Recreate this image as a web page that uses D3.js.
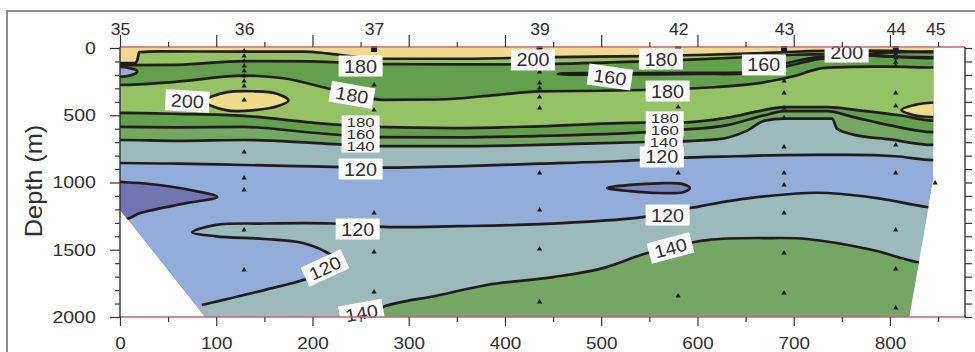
<!DOCTYPE html>
<html>
<head>
<meta charset="utf-8">
<script src="https://cdn.jsdelivr.net/npm/d3@7"></script>
<style>
  body { margin: 0; background: #fff; }
  svg { display: block; }
  text { font-family: "Liberation Sans", Arial, sans-serif; }
</style>
</head>
<body>
<svg id="chart" width="975" height="352"></svg>
<script>
// ---- Section data (distance in km, depth in m, values in µmol/kg) ----
const stationNames = ["35", "36", "37", "39", "42", "43", "44", "45"];
const stationKm = [0, 129, 264, 436, 580, 690, 806, 847];
const sampleDepths = [
  [],
  [22, 60, 97, 134, 171, 208, 245, 283, 387, 773, 966, 1056, 1353, 1651],
  [275, 461, 1227, 1517, 1814],
  [178, 260, 297, 364, 446, 929, 1204, 1494, 1888],
  [439, 929, 1844],
  [245, 335, 446, 520, 736, 929, 1019, 1227, 1524, 1822],
  [45, 75, 105, 135, 335, 431, 721, 929, 1353, 1643, 1933],
  [1004]
];
const surfaceStations = ["37", "39", "42", "43", "44"];

// Outline of the sampled section (bottom-left and right corners have no data)
const sectionOutline = [[0, 0], [845, 0], [845, 980], [820, 2000], [88, 2000], [0, 1204]];

// Layered isolines spanning the section: [km, depth]
const iso200top = [[0,112],[16,112],[18,90],[20,30],[40,25],[129,27],[190,27],[215,40],[240,62],[264,80],[350,80],[436,70],[540,60],[600,52],[660,40],[700,28],[760,20],[800,22],[845,30]];
const iso180top = [[0,127],[20,127],[60,125],[129,97],[200,100],[264,119],[350,122],[436,120],[540,100],[600,85],[660,65],[700,50],[740,45],[790,60],[845,75]];
const iso180upper = [[0,275],[60,250],[129,205],[170,225],[210,290],[240,345],[273,385],[330,383],[390,350],[436,322],[500,318],[578,305],[620,290],[660,265],[700,210],[730,150],[760,140],[800,138],[845,145]];
const iso180lower = [[0,483],[60,490],[129,505],[200,555],[264,587],[350,595],[436,582],[547,555],[578,555],[630,520],[670,460],[690,440],[735,440],[770,465],[810,500],[845,540]];
const iso160 = [[0,587],[60,590],[129,587],[200,630],[264,662],[350,665],[436,654],[547,625],[578,610],[630,575],[670,500],[690,470],[735,470],[760,510],[800,575],[845,625]];
const iso140 = [[0,684],[60,690],[129,684],[200,705],[264,729],[350,730],[436,721],[547,699],[578,695],[620,680],[650,620],[670,540],[690,525],[740,525],[745,600],[760,640],[800,680],[845,721]];
const iso120 = [[0,855],[60,860],[129,870],[200,880],[264,890],[350,880],[436,860],[520,840],[578,818],[640,805],[690,796],[760,795],[806,805],[845,833]];

// Deep isolines and closed features
const iso120deep = [[85,1911],[150,1800],[200,1700],[229,1590],[215,1520],[190,1450],[150,1420],[100,1400],[75,1370],[100,1315],[150,1305],[220,1305],[273,1330],[350,1325],[436,1310],[543,1257],[592,1190],[650,1120],[714,1078],[735,1078],[790,1120],[838,1182],[870,1200]];
const iso140deep = [[250,2030],[273,1926],[330,1840],[381,1762],[450,1703],[500,1640],[548,1524],[610,1428],[678,1413],[714,1420],[782,1502],[828,1591],[870,1620]];
const iso100west = [[-20,990],[0,996],[31,1011],[73,1056],[101,1108],[70,1152],[21,1227],[10,1264],[-10,1320]];
const lens100 = [[506,1041],[530,1018],[560,1006],[585,1012],[592,1041],[585,1072],[560,1078],[530,1064]];
const lens200west = [[88,395],[110,330],[140,322],[163,340],[175,390],[165,430],[140,462],[110,462]];
const lens200east = [[812,461],[825,425],[845,405],[870,405],[870,515],[845,515],[825,500]];
const loop160 = [[455,195],[520,197],[600,193],[655,187],[690,140],[720,90],[735,72],[725,67],[690,117],[655,178],[600,184],[520,188],[460,189]];
const loop160east = [[772,48],[800,32],[845,26],[870,26],[870,72],[845,70],[800,62]];
const patchWest = [[-5,150],[10,150],[18,175],[10,205],[-5,205]];

// Contour labels: [value, km, depth, angle]
const contourLabels = [
  [200, 70, 394, 3], [180, 250, 134, 0], [180, 241, 349, 10], [120, 250, 900, 0],
  [200, 429, 89, 0], [160, 509, 216, 8], [180, 562, 82, 0], [180, 569, 320, 0],
  [120, 563, 810, 0], [160, 669, 126, 0], [200, 755, 30, 0],
  [120, 247, 1346, 0], [120, 213, 1636, -25], [120, 569, 1242, 0],
  [140, 572, 1487, -15], [140, 251, 1970, -10]
];
// Labels where several isolines crowd together: [value, km, depth]
const stackedLabels = [
  [180, 250, 550], [160, 250, 639], [140, 250, 729],
  [180, 566, 520], [160, 566, 610], [140, 565, 699]
];

// Axis ticks
const distanceTicks = [0, 100, 200, 300, 400, 500, 600, 700, 800];
const distanceMinor = [50, 150, 250, 350, 450, 550, 650, 750, 850];
const depthTicks = [0, 500, 1000, 1500, 2000];
const depthMinor = d3.range(100, 2000, 100).filter(d => d % 500 !== 0);

// Band colours
const band = {
  lt100: "#7176b3", b100: "#94acd9", b120: "#9cbabb", b140: "#74a664",
  b160: "#62a04b", b180: "#96c266", gt200: "#eedc8c"
};

// ---- Drawing ----
const svg = d3.select("#chart");
const x = d3.scaleLinear().domain([0, 878]).range([120, 965]);
const y = d3.scaleLinear().domain([0, 2000]).range([48, 317]);
const ink = "#2e2e2e";

// outer figure frame
svg.append("path").attr("d", "M7,352 L7,11 L975,11")
  .attr("fill", "none").attr("stroke", "#8c8c8c").attr("stroke-width", 2);

const defs = svg.append("defs");
defs.append("clipPath").attr("id", "sec").append("path")
  .attr("d", d3.line().x(d => x(d[0])).y(d => y(d[1]))(sectionOutline) + "Z");

const plot = svg.append("g").attr("clip-path", "url(#sec)");

const ext = pts => [[-40, pts[0][1]], ...pts, [920, pts[pts.length - 1][1]]];
const above = d3.area().x(d => x(d[0])).y0(y(-300)).y1(d => y(d[1])).curve(d3.curveMonotoneX);
const across = d3.line().x(d => x(d[0])).y(d => y(d[1])).curve(d3.curveMonotoneX);
const bend = d3.line().x(d => x(d[0])).y(d => y(d[1])).curve(d3.curveCatmullRom.alpha(0.5));
const loop = d3.line().x(d => x(d[0])).y(d => y(d[1])).curve(d3.curveCatmullRomClosed.alpha(0.5));
const P = (km, m) => x(km) + "," + y(m);

// base band
plot.append("path").attr("d", d3.line().x(d => x(d[0])).y(d => y(d[1]))(sectionOutline) + "Z")
  .attr("fill", band.b100);

// layered bands, deepest first
const layers = [
  [iso120, band.b120], [iso140, band.b140], [iso160, band.b160],
  [iso180lower, band.b180], [iso180upper, band.b160], [iso180top, band.b180],
  [iso200top, band.gt200]
];
layers.forEach(([pts, c]) => {
  plot.append("path").attr("d", above(ext(pts))).attr("fill", c);
});

// closed features in the upper layers
const closed = [
  [lens200west, band.gt200], [lens200east, band.gt200],
  [loop160, band.b140], [loop160east, band.b160], [patchWest, band.b100]
];
closed.forEach(([pts, c]) => plot.append("path").attr("d", loop(pts)).attr("fill", c));

// deep regions
const deep120 = bend(iso120deep) + "L" + P(920, 1200) + "L" + P(920, 2300) + "L" + P(60, 2300) + "Z";
const deep140 = bend(iso140deep) + "L" + P(920, 1620) + "L" + P(920, 2300) + "L" + P(240, 2300) + "Z";
const west100 = bend(iso100west) + "L" + P(-40, 1320) + "L" + P(-40, 990) + "Z";
plot.append("path").attr("d", deep120).attr("fill", band.b120);
plot.append("path").attr("d", deep140).attr("fill", band.b140);
plot.append("path").attr("d", west100).attr("fill", band.lt100);
plot.append("path").attr("d", loop(lens100)).attr("fill", "#7e87bf");

// isolines
const stroke = sel => sel.attr("fill", "none").attr("stroke", "#231c1c")
  .attr("stroke-width", 2.7).attr("stroke-linejoin", "round");
[iso120, iso140, iso160, iso180lower, iso180upper, iso180top, iso200top]
  .forEach(pts => plot.append("path").attr("d", across(ext(pts))).call(stroke));
[iso120deep, iso140deep, iso100west]
  .forEach(pts => plot.append("path").attr("d", bend(pts)).call(stroke));
[lens200west, lens200east, loop160, loop160east, patchWest, lens100]
  .forEach(pts => plot.append("path").attr("d", loop(pts)).call(stroke));

// sample markers
const tri = d3.symbol(d3.symbolTriangle).size(12);
stationKm.forEach((km, i) => {
  sampleDepths[i].forEach(m => {
    svg.append("path").attr("d", tri())
      .attr("transform", `translate(${x(km)},${y(m)})`).attr("fill", "#1a1a1a");
  });
  if (surfaceStations.includes(stationNames[i])) {
    svg.append("rect").attr("x", x(km) - 3).attr("y", y(0) - 2)
      .attr("width", 6).attr("height", 6).attr("fill", "#1a1a1a");
  }
});

// contour labels: boxes first, then the numbers
const labelG = svg.append("g");
const place = d => `translate(${x(d[1])},${y(d[2])}) rotate(${d[3] || 0})`;
labelG.selectAll("rect.big").data(contourLabels).join("rect").attr("class", "big")
  .attr("transform", place)
  .attr("x", -22).attr("y", -10.5).attr("width", 44).attr("height", 21).attr("fill", "#fff");
labelG.selectAll("rect.small").data(stackedLabels).join("rect").attr("class", "small")
  .attr("transform", place)
  .attr("x", -19).attr("y", -6.5).attr("width", 38).attr("height", 13).attr("fill", "#fff");
labelG.selectAll("text.big").data(contourLabels).join("text").attr("class", "big")
  .attr("transform", d => place(d) + " translate(0,6.5) scale(1.1,1)")
  .attr("text-anchor", "middle").attr("font-size", 18).attr("fill", ink)
  .text(d => d[0]);
labelG.selectAll("text.small").data(stackedLabels).join("text").attr("class", "small")
  .attr("transform", d => place(d) + " translate(0,5) scale(1.25,1)")
  .attr("text-anchor", "middle").attr("font-size", 13.5).attr("fill", ink)
  .text(d => d[0]);

// frame lines
svg.append("line").attr("x1", 120).attr("x2", 965).attr("y1", y(0) - 1).attr("y2", y(0) - 1)
  .attr("stroke", "#c8607a").attr("stroke-width", 1.5);
svg.append("line").attr("x1", 120).attr("x2", 965).attr("y1", y(2000)).attr("y2", y(2000))
  .attr("stroke", "#c8607a").attr("stroke-width", 1.5);
svg.append("line").attr("x1", 120).attr("x2", 120).attr("y1", y(0) - 1).attr("y2", y(2000))
  .attr("stroke", "#222").attr("stroke-width", 1.3);
svg.append("line").attr("x1", 965).attr("x2", 965).attr("y1", y(0) - 1).attr("y2", y(2000))
  .attr("stroke", "#222").attr("stroke-width", 1.3);

const tickStyle = g => {
  g.select(".domain").remove();
  g.selectAll("line").attr("stroke", "#333").attr("stroke-width", 1.2);
  g.selectAll("text").attr("font-family", '"Liberation Sans", Arial, sans-serif')
    .attr("fill", ink);
};

// bottom axis
svg.append("g").attr("transform", `translate(0,${y(2000)})`)
  .call(d3.axisBottom(x).tickValues(distanceTicks).tickSize(9).tickPadding(12))
  .call(tickStyle)
  .call(g => g.selectAll("text").attr("font-size", 16).attr("transform", "scale(1.18,1)"));
svg.append("g").attr("transform", `translate(0,${y(2000)})`)
  .call(d3.axisBottom(x).tickValues(distanceMinor).tickSize(5).tickFormat(""))
  .call(tickStyle);

// top axis with stations
svg.append("g").attr("transform", `translate(0,${y(0) - 1})`)
  .call(d3.axisTop(x).tickValues(distanceTicks).tickSize(12).tickFormat(""))
  .call(tickStyle);
svg.append("g").attr("transform", `translate(0,${y(0) - 1})`)
  .call(d3.axisTop(x).tickValues(distanceMinor).tickSize(5).tickFormat(""))
  .call(tickStyle);
const stationScale = d3.scaleOrdinal().domain(stationNames).range(stationKm.map(x));
svg.append("g").attr("transform", `translate(0,${y(0) - 1})`)
  .call(d3.axisTop(stationScale).tickSize(0).tickPadding(12))
  .call(tickStyle)
  .call(g => g.selectAll("text").attr("font-size", 16).attr("transform", "scale(1.1,1)"));

// left axis
svg.append("g").attr("transform", "translate(120,0)")
  .call(d3.axisLeft(y).tickValues(depthTicks).tickSize(10).tickPadding(11).tickFormat(d3.format("d")))
  .call(tickStyle)
  .call(g => g.selectAll("text").attr("font-size", 17).attr("transform", "scale(1.15,1)"));
svg.append("g").attr("transform", "translate(120,0)")
  .call(d3.axisLeft(y).tickValues(depthMinor).tickSize(5).tickFormat(""))
  .call(tickStyle);

// right axis
svg.append("g").attr("transform", "translate(965,0)")
  .call(d3.axisRight(y).tickValues(d3.range(0, 2001, 100)).tickSize(7).tickFormat(""))
  .call(tickStyle);

// axis title
svg.append("text").attr("transform", "translate(42,181) rotate(-90) scale(1.1,1)")
  .attr("text-anchor", "middle").attr("font-size", 23).attr("fill", ink)
  .text("Depth (m)");
</script>
</body>
</html>
